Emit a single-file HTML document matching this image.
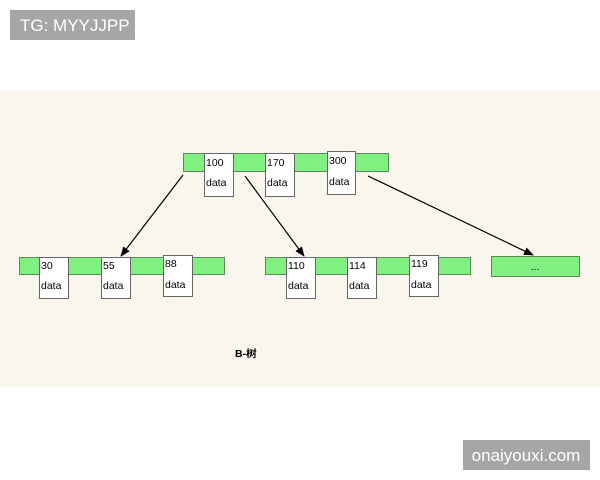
<!DOCTYPE html>
<html><head><style>
html,body{margin:0;padding:0;background:#fff;width:600px;height:480px;overflow:hidden}
svg{display:block}
</style></head><body>
<svg width="600" height="480" xmlns="http://www.w3.org/2000/svg" font-family="Liberation Sans, Noto Sans CJK SC, sans-serif">
<defs><marker id="a" markerWidth="10" markerHeight="10" refX="9" refY="5" orient="auto" markerUnits="userSpaceOnUse"><path d="M0,1 L10,5 L0,9 z" fill="#000"/></marker></defs>
<rect x="0" y="91" width="600" height="296" fill="#f9f6ee"/>
<rect x="10" y="10" width="125" height="30" fill="#a6a6a6"/>
<text x="20" y="31" font-size="17" fill="#fff">TG: MYYJJPP</text>
<rect x="463" y="440" width="127" height="30" fill="#a6a6a6"/>
<text x="526" y="461" font-size="17" fill="#fff" text-anchor="middle">onaiyouxi.com</text>
<g stroke="#5a8a5a" stroke-width="1" fill="#80f080">
<rect x="183.5" y="153.5" width="205" height="18"/>
<rect x="19.5" y="257.5" width="205" height="17"/>
<rect x="265.5" y="257.5" width="205" height="17"/>
<rect x="491.5" y="256.5" width="88" height="20"/>
</g>
<g stroke="#666" fill="#fff">
<rect x="204.5" y="153.5" width="29" height="43"/>
<rect x="265.5" y="153.5" width="29" height="43"/>
<rect x="327.5" y="151.5" width="28" height="43"/>
<rect x="39.5" y="257.5" width="29" height="41"/>
<rect x="101.5" y="257.5" width="29" height="41"/>
<rect x="163.5" y="255.5" width="29" height="41"/>
<rect x="286.5" y="257.5" width="29" height="41"/>
<rect x="347.5" y="257.5" width="29" height="41"/>
<rect x="409.5" y="255.5" width="29" height="41"/>
</g>
<g font-size="10.5" fill="#000">
<text x="206" y="166">100</text><text x="206" y="186">data</text>
<text x="267" y="166">170</text><text x="267" y="186">data</text>
<text x="329" y="164">300</text><text x="329" y="185">data</text>
<text x="41" y="269">30</text><text x="41" y="289">data</text>
<text x="103" y="269">55</text><text x="103" y="289">data</text>
<text x="165" y="267">88</text><text x="165" y="288">data</text>
<text x="288" y="269">110</text><text x="288" y="289">data</text>
<text x="349" y="269">114</text><text x="349" y="289">data</text>
<text x="411" y="267">119</text><text x="411" y="288">data</text>
<text x="535" y="270" text-anchor="middle">...</text>
<text x="235" y="357" font-weight="bold">B-树</text>
</g>
<g stroke="#000" stroke-width="1.2" marker-end="url(#a)">
<line x1="183" y1="175" x2="121" y2="256"/>
<line x1="245" y1="176" x2="304" y2="256"/>
<line x1="368" y1="176" x2="533" y2="255"/>
</g>
</svg>
</body></html>
